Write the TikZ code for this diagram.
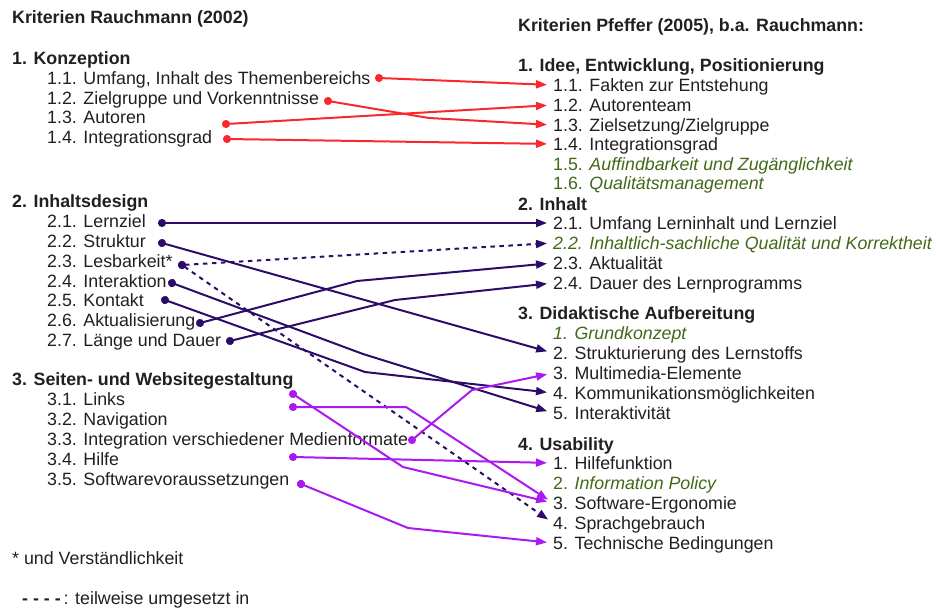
\documentclass[tikz,border=0pt]{standalone}
\usepackage{fontspec}
\setmainfont{Liberation Sans}
\usetikzlibrary{arrows.meta, positioning, calc}
\definecolor{textgray}{RGB}{35,31,32}
\definecolor{linkred}{RGB}{250,40,45}
\definecolor{linkindigo}{RGB}{45,12,105}
\definecolor{linkviolet}{RGB}{170,25,240}
\definecolor{newgreen}{RGB}{65,105,25}

\begin{document}
\begin{tikzpicture}[x=1pt, y=-1pt,
    every node/.style={font=\fontsize{17.8}{20}\selectfont, text=textgray, inner sep=0pt, anchor=west, text height=14pt, text depth=2pt},
    head/.style={font=\fontsize{17.8}{20}\selectfont\bfseries},
    added/.style={text=newgreen},
    link/.style={{Circle[length=8pt]}-{Triangle[length=11pt, width=8pt]}, line width=2pt, shorten <=-4pt, shorten >=6pt},
    partial/.style={link, dash pattern=on 4.5pt off 4.5pt}
]
\useasboundingbox (0,0) rectangle (936,610);

% Left column: Rauchmann
\node[head] (ltitle) at (12,18) {Kriterien Rauchmann (2002)};

\node[head] (lh1) at (12,58) {1. Konzeption};
\node (l11) at (47,78) {1.1. Umfang, Inhalt des Themenbereichs};
\node (l12) at (47,98) {1.2. Zielgruppe und Vorkenntnisse};
\node (l13) at (47,117) {1.3. Autoren};
\node (l14) at (47,137) {1.4. Integrationsgrad};

\node[head] (lh2) at (12,201) {2. Inhaltsdesign};
\node (l21) at (47,221) {2.1. Lernziel};
\node (l22) at (47,241) {2.2. Struktur};
\node (l23) at (47,261) {2.3. Lesbarkeit*};
\node (l24) at (47,281) {2.4. Interaktion};
\node (l25) at (47,300) {2.5. Kontakt};
\node (l26) at (47,320) {2.6. Aktualisierung};
\node (l27) at (47,340) {2.7. Länge und Dauer};

\node[head] (lh3) at (12,379) {3. Seiten- und Websitegestaltung};
\node (l31) at (47,399) {3.1. Links};
\node (l32) at (47,419) {3.2. Navigation};
\node (l33) at (47,439) {3.3. Integration verschiedener Medienformate};
\node (l34) at (47,459) {3.4. Hilfe};
\node (l35) at (47,479) {3.5. Softwarevoraussetzungen};

% Footnotes
\node (star) at (12,558) {* und Verständlichkeit};
\node (legend) at (22,598) {{\bfseries - - - -}\,: teilweise umgesetzt in};

% Right column: Pfeffer
\node[head] (rtitle) at (518,26) {Kriterien Pfeffer (2005), b.a. Rauchmann:};

\node[head] (rh1) at (518,65) {1. Idee, Entwicklung, Positionierung};
\node (r11) at (553,85) {1.1. Fakten zur Entstehung};
\node (r12) at (553,105) {1.2. Autorenteam};
\node (r13) at (553,125) {1.3. Zielsetzung/Zielgruppe};
\node (r14) at (553,144) {1.4. Integrationsgrad};
\node[added] (r15) at (553,164) {1.5. \textit{Auffindbarkeit und Zugänglichkeit}};
\node[added] (r16) at (553,183) {1.6. \textit{Qualitätsmanagement}};

\node[head] (rh2) at (518,204) {2. Inhalt};
\node (r21) at (553,223) {2.1. Umfang Lerninhalt und Lernziel};
\node[added] (r22) at (553,243) {\textit{2.2. Inhaltlich-sachliche Qualität und Korrektheit}};
\node (r23) at (553,263) {2.3. Aktualität};
\node (r24) at (553,283) {2.4. Dauer des Lernprogramms};

\node[head] (rh3) at (518,313) {3. Didaktische Aufbereitung};
\node[added] (r31) at (553,333) {\textit{1. Grundkonzept}};
\node (r32) at (553,353) {2. Strukturierung des Lernstoffs};
\node (r33) at (553,373) {3. Multimedia-Elemente};
\node (r34) at (553,393) {4. Kommunikationsmöglichkeiten};
\node (r35) at (553,413) {5. Interaktivität};

\node[head] (rh4) at (518,444) {4. Usability};
\node (r41) at (553,463) {1. Hilfefunktion};
\node[added] (r42) at (553,483) {2. \textit{Information Policy}};
\node (r43) at (553,503) {3. Software-Ergonomie};
\node (r44) at (553,523) {4. Sprachgebrauch};
\node (r45) at (553,543) {5. Technische Bedingungen};

% Dots
\coordinate (d11) at (379,78);
\coordinate (d12) at (328,101);
\coordinate (d13) at (226,124);
\coordinate (d14) at (227,139);
\coordinate (d21) at (162,223);
\coordinate (d22) at (162,243);
\coordinate (d23) at (182,265);
\coordinate (d24) at (172,283);
\coordinate (d25) at (165,300);
\coordinate (d26) at (200,323);
\coordinate (d27) at (230,341);
\coordinate (d31) at (293,394);
\coordinate (d32) at (293,407);
\coordinate (d33) at (412,440);
\coordinate (d34) at (293,457);
\coordinate (d35) at (301,484);

% Links: Konzeption
\draw[link, linkred] (d11) -- (r11.west);
\draw[link, linkred] (d12) -- (429,118) -- (r13.west);
\draw[link, linkred] (d13) -- (r12.west);
\draw[link, linkred] (d14) -- (r14.west);

% Links: Inhaltsdesign
\draw[link, linkindigo] (d21) -- (r21.west);
\draw[link, linkindigo] (d22) -- (r32.west);
\draw[partial, linkindigo] (d23) -- (r22.west);
\draw[partial, linkindigo] (d23) -- (r44.west);
\draw[link, linkindigo] (d24) -- (363,354) -- (r35.west);
\draw[link, linkindigo] (d25) -- (365,372) -- (r34.west);
\draw[link, linkindigo] (d26) -- (357,281) -- (r23.west);
\draw[link, linkindigo] (d27) -- (395,300) -- (r24.west);

% Links: Seiten- und Websitegestaltung
\draw[link, linkviolet] (d31) -- (403,467) -- (r43.west);
\draw[link, linkviolet] (d32) -- (406,407) -- (r43.west);
\draw[link, linkviolet] (d33) -- (472,390) -- (r33.west);
\draw[link, linkviolet] (d34) -- (r41.west);
\draw[link, linkviolet] (d35) -- (408,528) -- (r45.west);

\end{tikzpicture}
\end{document}
